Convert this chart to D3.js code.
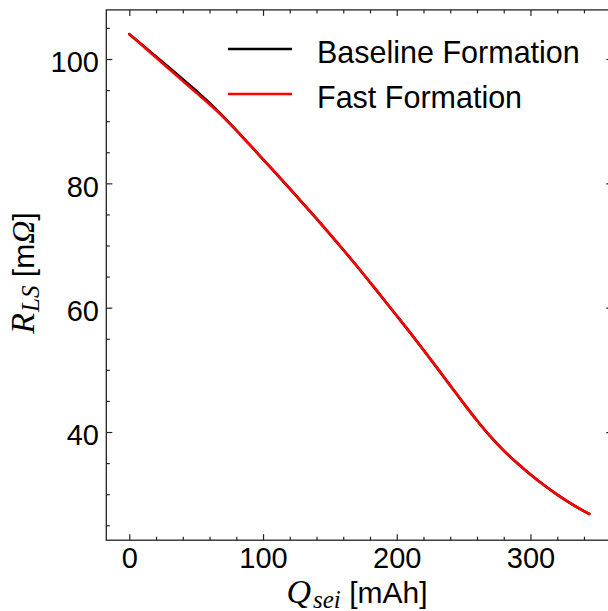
<!DOCTYPE html>
<html>
<head>
<meta charset="utf-8">
<script src="https://cdn.jsdelivr.net/npm/d3@7"></script>
<style>
  body { margin: 0; background: #fff; }
  svg { display: block; }
  .tick text { font-family: "Liberation Sans", Arial, Helvetica, sans-serif; }
</style>
</head>
<body>
<svg id="chart" width="608" height="611"></svg>
<script>
// Q_sei [mAh] sample points
var qValues = [0, 10, 20, 30, 40, 50, 60, 70, 80, 90, 100, 110, 120, 130, 140, 150, 160, 170,
	180, 190, 200, 210, 220, 230, 240, 250, 260, 270, 280, 290, 300, 310, 320, 330, 340, 344];
// R_LS [mOhm], baseline formation
var baselineR = [104.0, 102.2, 100.4, 98.6, 96.76, 94.88, 92.95, 90.82, 88.55, 86.22, 83.87, 81.52, 79.14, 76.74, 74.31, 71.84, 69.32, 66.74,
	64.10, 61.40, 58.70, 55.98, 53.20, 50.36, 47.48, 44.62, 41.86, 39.30, 37.02, 35.02, 33.17, 31.47, 29.92, 28.52, 27.27, 26.82];
// R_LS [mOhm], fast formation
var fastR = [104.0, 102.12, 100.24, 98.36, 96.48, 94.6, 92.72, 90.72, 88.52, 86.22, 83.87, 81.52, 79.14, 76.74, 74.31, 71.84, 69.32, 66.74,
	64.10, 61.40, 58.70, 55.98, 53.20, 50.36, 47.48, 44.62, 41.86, 39.30, 37.02, 35.02, 33.17, 31.47, 29.92, 28.52, 27.27, 26.82];

var seriesNames = ["Baseline Formation", "Fast Formation"];
var seriesColors = ["#000000", "#ff0000"];

var xMajor = [0, 100, 200, 300];
var yMajor = [40, 60, 80, 100];

var svg = d3.select("#chart");
var plotL = 106.3, plotR = 612.3, plotT = 9.9, plotB = 540.2;

var x = d3.scaleLinear().domain([-17.2, 361.2]).range([plotL, plotR]);
var y = d3.scaleLinear().domain([22.6, 107.9]).range([plotB, plotT]);

var xMinor = d3.range(20, 361, 20).filter(function (v) { return xMajor.indexOf(v) < 0; });
var yMinor = d3.range(25, 108, 5).filter(function (v) { return yMajor.indexOf(v) < 0; });

var tickFont = 29;

function styleAxis(g) {
	g.select(".domain").remove();
	g.selectAll(".tick line").attr("stroke", "#222").attr("stroke-width", 1.2);
	g.selectAll(".tick text").attr("font-size", tickFont).attr("fill", "#000");
}

// bottom
svg.append("g").attr("transform", "translate(0," + plotB + ")")
	.call(d3.axisBottom(x).tickValues(xMajor).tickSizeInner(-6).tickSizeOuter(0).tickPadding(7.2))
	.call(styleAxis);
svg.append("g").attr("transform", "translate(0," + plotB + ")")
	.call(d3.axisBottom(x).tickValues(xMinor).tickFormat("").tickSizeInner(-3.5).tickSizeOuter(0))
	.call(styleAxis);
// top
svg.append("g").attr("transform", "translate(0," + plotT + ")")
	.call(d3.axisTop(x).tickValues(xMajor).tickFormat("").tickSizeInner(-6).tickSizeOuter(0))
	.call(styleAxis);
svg.append("g").attr("transform", "translate(0," + plotT + ")")
	.call(d3.axisTop(x).tickValues(xMinor).tickFormat("").tickSizeInner(-3.5).tickSizeOuter(0))
	.call(styleAxis);
// left
svg.append("g").attr("transform", "translate(" + plotL + ",0)")
	.call(d3.axisLeft(y).tickValues(yMajor).tickSizeInner(-6).tickSizeOuter(0).tickPadding(7.3))
	.call(styleAxis)
	.selectAll(".tick text").attr("dy", "0.44em");
svg.append("g").attr("transform", "translate(" + plotL + ",0)")
	.call(d3.axisLeft(y).tickValues(yMinor).tickFormat("").tickSizeInner(-3.5).tickSizeOuter(0))
	.call(styleAxis);
// right
svg.append("g").attr("transform", "translate(" + plotR + ",0)")
	.call(d3.axisRight(y).tickValues(yMajor).tickFormat("").tickSizeInner(-6).tickSizeOuter(0))
	.call(styleAxis);
svg.append("g").attr("transform", "translate(" + plotR + ",0)")
	.call(d3.axisRight(y).tickValues(yMinor).tickFormat("").tickSizeInner(-3.5).tickSizeOuter(0))
	.call(styleAxis);

// frame
svg.append("rect")
	.attr("x", plotL).attr("y", plotT)
	.attr("width", plotR - plotL).attr("height", plotB - plotT)
	.attr("fill", "none").attr("stroke", "#222").attr("stroke-width", 1.3);

// lines
var line = d3.line()
	.x(function (d) { return x(d[0]); })
	.y(function (d) { return y(d[1]); })
	.curve(d3.curveCatmullRom.alpha(0.5));

[baselineR, fastR].forEach(function (vals, i) {
	svg.append("path")
		.datum(qValues.map(function (q, j) { return [q, vals[j]]; }))
		.attr("d", line)
		.attr("fill", "none")
		.attr("stroke", seriesColors[i])
		.attr("stroke-width", 2.6)
		.attr("stroke-linejoin", "round")
		.attr("stroke-linecap", "round");
});

// legend
var legend = svg.append("g");
seriesNames.forEach(function (name, i) {
	var ly = 49 + i * 45;
	legend.append("line")
		.attr("x1", 228).attr("x2", 292)
		.attr("y1", ly).attr("y2", ly)
		.attr("stroke", seriesColors[i]).attr("stroke-width", 2.6);
	legend.append("text")
		.attr("x", 317).attr("y", ly + 13.5)
		.attr("font-family", "Liberation Sans, Arial, Helvetica, sans-serif")
		.attr("font-size", 30.5)
		.text(name);
});

// axis labels
var mathFont = "Liberation Serif, Times New Roman, serif";
var sansFont = "Liberation Sans, Arial, Helvetica, sans-serif";

var xl = svg.append("text")
	.attr("x", 357).attr("y", 603)
	.attr("text-anchor", "middle")
	.attr("font-size", 30);
xl.append("tspan").attr("font-family", mathFont).attr("font-style", "italic").attr("font-size", 34).text("Q");
xl.append("tspan").attr("font-family", mathFont).attr("font-style", "italic").attr("font-size", 25).attr("dx", 2).attr("dy", 5).text("sei");
xl.append("tspan").attr("font-family", sansFont).attr("dy", -5).text(" [mAh]");

var yl = svg.append("text")
	.attr("transform", "translate(34,273) rotate(-90)")
	.attr("text-anchor", "middle")
	.attr("font-size", 30);
yl.append("tspan").attr("font-family", mathFont).attr("font-style", "italic").attr("font-size", 34).text("R");
yl.append("tspan").attr("font-family", mathFont).attr("font-style", "italic").attr("font-size", 25).attr("dx", 1).attr("dy", 5).text("LS");
yl.append("tspan").attr("font-family", sansFont).attr("dy", -5).text(" [m");
yl.append("tspan").attr("font-family", mathFont).attr("font-style", "italic").attr("font-size", 32).text("Ω");
yl.append("tspan").attr("font-family", sansFont).text("]");
</script>
</body>
</html>
